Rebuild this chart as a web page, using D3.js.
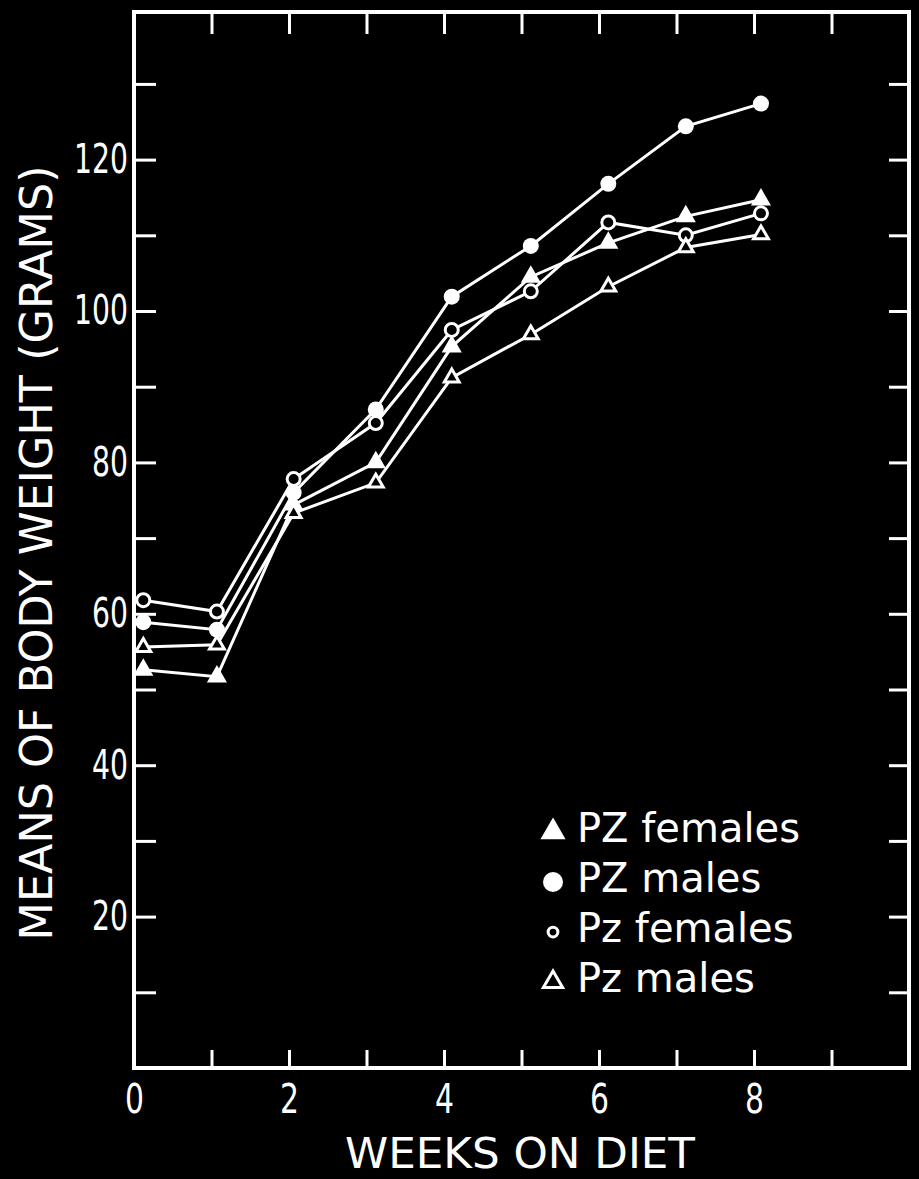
<!DOCTYPE html>
<html>
<head>
<meta charset="utf-8">
<script src="https://cdn.jsdelivr.net/npm/d3@7"></script>
<style>
  html, body { margin: 0; padding: 0; background: #000; }
  svg { display: block; }
</style>
</head>
<body>
<script>
// weeks (points sit slightly right of the ticks)
const weeks = [0.12, 1.07, 2.06, 3.12, 4.1, 5.12, 6.12, 7.12, 8.09];

const pzFemales = [52.6, 51.7, 74.4, 80.0, 95.3, 104.5, 109.0, 112.5, 114.7];
const pzMales = [58.9, 57.9, 76.0, 87.0, 101.9, 108.6, 116.8, 124.4, 127.4];
const pzLowFemales = [61.8, 60.3, 77.8, 85.2, 97.5, 102.6, 111.7, 110.0, 112.9];
const pzLowMales = [55.6, 55.9, 73.3, 77.3, 91.2, 96.9, 103.2, 108.4, 110.1];

const seriesNames = ["PZ females", "PZ males", "Pz females", "Pz males"];
const seriesValues = [pzFemales, pzMales, pzLowFemales, pzLowMales];
const seriesMarks = ["triFilled", "circleFilled", "circleOpen", "triOpen"];

const xTicks = [0, 1, 2, 3, 4, 5, 6, 7, 8, 9, 10];
const xLabels = [0, 2, 4, 6, 8];
const yTicks = [10, 20, 30, 40, 50, 60, 70, 80, 90, 100, 110, 120, 130];
const yLabels = [20, 40, 60, 80, 100, 120];

const W = 919, H = 1179;
const font = "'DejaVu Sans', sans-serif";

const x = d3.scaleLinear().domain([0, 10]).range([134, 909]);
const y = d3.scaleLinear().domain([0, 139.5]).range([1068, 12]);

const svg = d3.create("svg")
    .attr("width", W)
    .attr("height", H)
    .attr("viewBox", `0 0 ${W} ${H}`)
    .style("background", "#000");

svg.append("rect").attr("width", W).attr("height", H).attr("fill", "#000");

// frame
svg.append("rect")
    .attr("x", x(0)).attr("y", y(139.5))
    .attr("width", x(10) - x(0)).attr("height", y(0) - y(139.5))
    .attr("fill", "none").attr("stroke", "#fff").attr("stroke-width", 4);

function styleAxis(g) {
    g.select(".domain").remove();
    g.selectAll(".tick line").attr("stroke", "#fff").attr("stroke-width", 3);
    g.selectAll(".tick text")
        .attr("fill", "#fff")
        .style("font-family", font);
}

// bottom axis
svg.append("g")
    .attr("transform", `translate(0,${y(0)})`)
    .call(d3.axisBottom(x).tickValues(xTicks.slice(1, -1).concat([0]))
        .tickSizeInner(-18).tickSizeOuter(0).tickPadding(17)
        .tickFormat(d => xLabels.includes(d) ? d : ""))
    .call(styleAxis)
    .call(g => g.selectAll(".tick text")
        .style("font-size", "40px")
        .attr("textLength", d => xLabels.includes(d) ? 19 : null)
        .attr("lengthAdjust", "spacingAndGlyphs"));

// top axis
svg.append("g")
    .attr("transform", `translate(0,${y(139.5)})`)
    .call(d3.axisTop(x).tickValues(xTicks.slice(1, -1))
        .tickSizeInner(-22).tickSizeOuter(0).tickFormat(""))
    .call(styleAxis);

// left axis
svg.append("g")
    .attr("transform", `translate(${x(0)},0)`)
    .call(d3.axisLeft(y).tickValues(yTicks)
        .tickSizeInner(-22).tickSizeOuter(0).tickPadding(6)
        .tickFormat(d => yLabels.includes(d) ? d : ""))
    .call(styleAxis)
    .call(g => g.selectAll(".tick text")
        .style("font-size", "40px")
        .attr("textLength", d => yLabels.includes(d) ? String(d).length * 18 : null)
        .attr("lengthAdjust", "spacingAndGlyphs"));

// right axis
svg.append("g")
    .attr("transform", `translate(${x(10)},0)`)
    .call(d3.axisRight(y).tickValues(yTicks)
        .tickSizeInner(-20).tickSizeOuter(0).tickFormat(""))
    .call(styleAxis);

// axis titles
svg.append("text")
    .attr("x", 520).attr("y", 1168)
    .attr("text-anchor", "middle")
    .attr("fill", "#fff")
    .style("font-family", font).style("font-size", "42px")
    .attr("textLength", 350).attr("lengthAdjust", "spacingAndGlyphs")
    .text("WEEKS ON DIET");

svg.append("text")
    .attr("transform", "translate(52,553) rotate(-90)")
    .attr("text-anchor", "middle")
    .attr("fill", "#fff")
    .style("font-family", font).style("font-size", "44px")
    .attr("textLength", 775).attr("lengthAdjust", "spacingAndGlyphs")
    .text("MEANS OF BODY WEIGHT (GRAMS)");

// lines
const line = d3.line().x((d, i) => x(weeks[i])).y(d => y(d));

svg.append("g")
    .selectAll("path")
    .data(seriesValues)
    .join("path")
    .attr("d", line)
    .attr("fill", "none")
    .attr("stroke", "#fff")
    .attr("stroke-width", 3);

const triFilled = d3.symbol().type(d3.symbolTriangle).size(120)();
const triOpen = d3.symbol().type(d3.symbolTriangle).size(95)();

function drawMark(g, kind, scale) {
    if (kind === "circleFilled") {
        g.append("circle").attr("r", 8 * scale).attr("fill", "#fff");
    } else if (kind === "circleOpen") {
        g.append("circle").attr("r", 6.5 * scale).attr("fill", "#000")
            .attr("stroke", "#fff").attr("stroke-width", 3);
    } else if (kind === "triFilled") {
        g.append("path").attr("d", triFilled).attr("fill", "#fff")
            .attr("stroke", "#fff").attr("stroke-width", 2)
            .attr("transform", `scale(${scale})`);
    } else {
        g.append("path").attr("d", triOpen).attr("fill", "#000")
            .attr("stroke", "#fff").attr("stroke-width", 3 / scale)
            .attr("transform", `scale(${scale})`);
    }
}

// markers
seriesValues.forEach((vals, s) => {
    svg.append("g")
        .selectAll("g")
        .data(vals)
        .join("g")
        .attr("transform", (d, i) => `translate(${x(weeks[i])},${y(d)})`)
        .each(function() { drawMark(d3.select(this), seriesMarks[s], 1); });
});

// legend
const legendScales = [1.25, 1.25, 0.75, 1.3];
const legend = svg.append("g")
    .selectAll("g")
    .data(seriesNames)
    .join("g")
    .attr("transform", (d, i) => `translate(553,${880 + (i - 1) * 50})`);

legend.each(function(d, i) {
    const g = d3.select(this);
    drawMark(g.append("g").attr("transform", "translate(0,2)"), seriesMarks[i], legendScales[i]);
    g.append("text")
        .attr("x", 24).attr("y", 12)
        .attr("fill", "#fff")
        .style("font-family", font).style("font-size", "40px")
        .text(d);
});

document.body.append(svg.node());
</script>
</body>
</html>
